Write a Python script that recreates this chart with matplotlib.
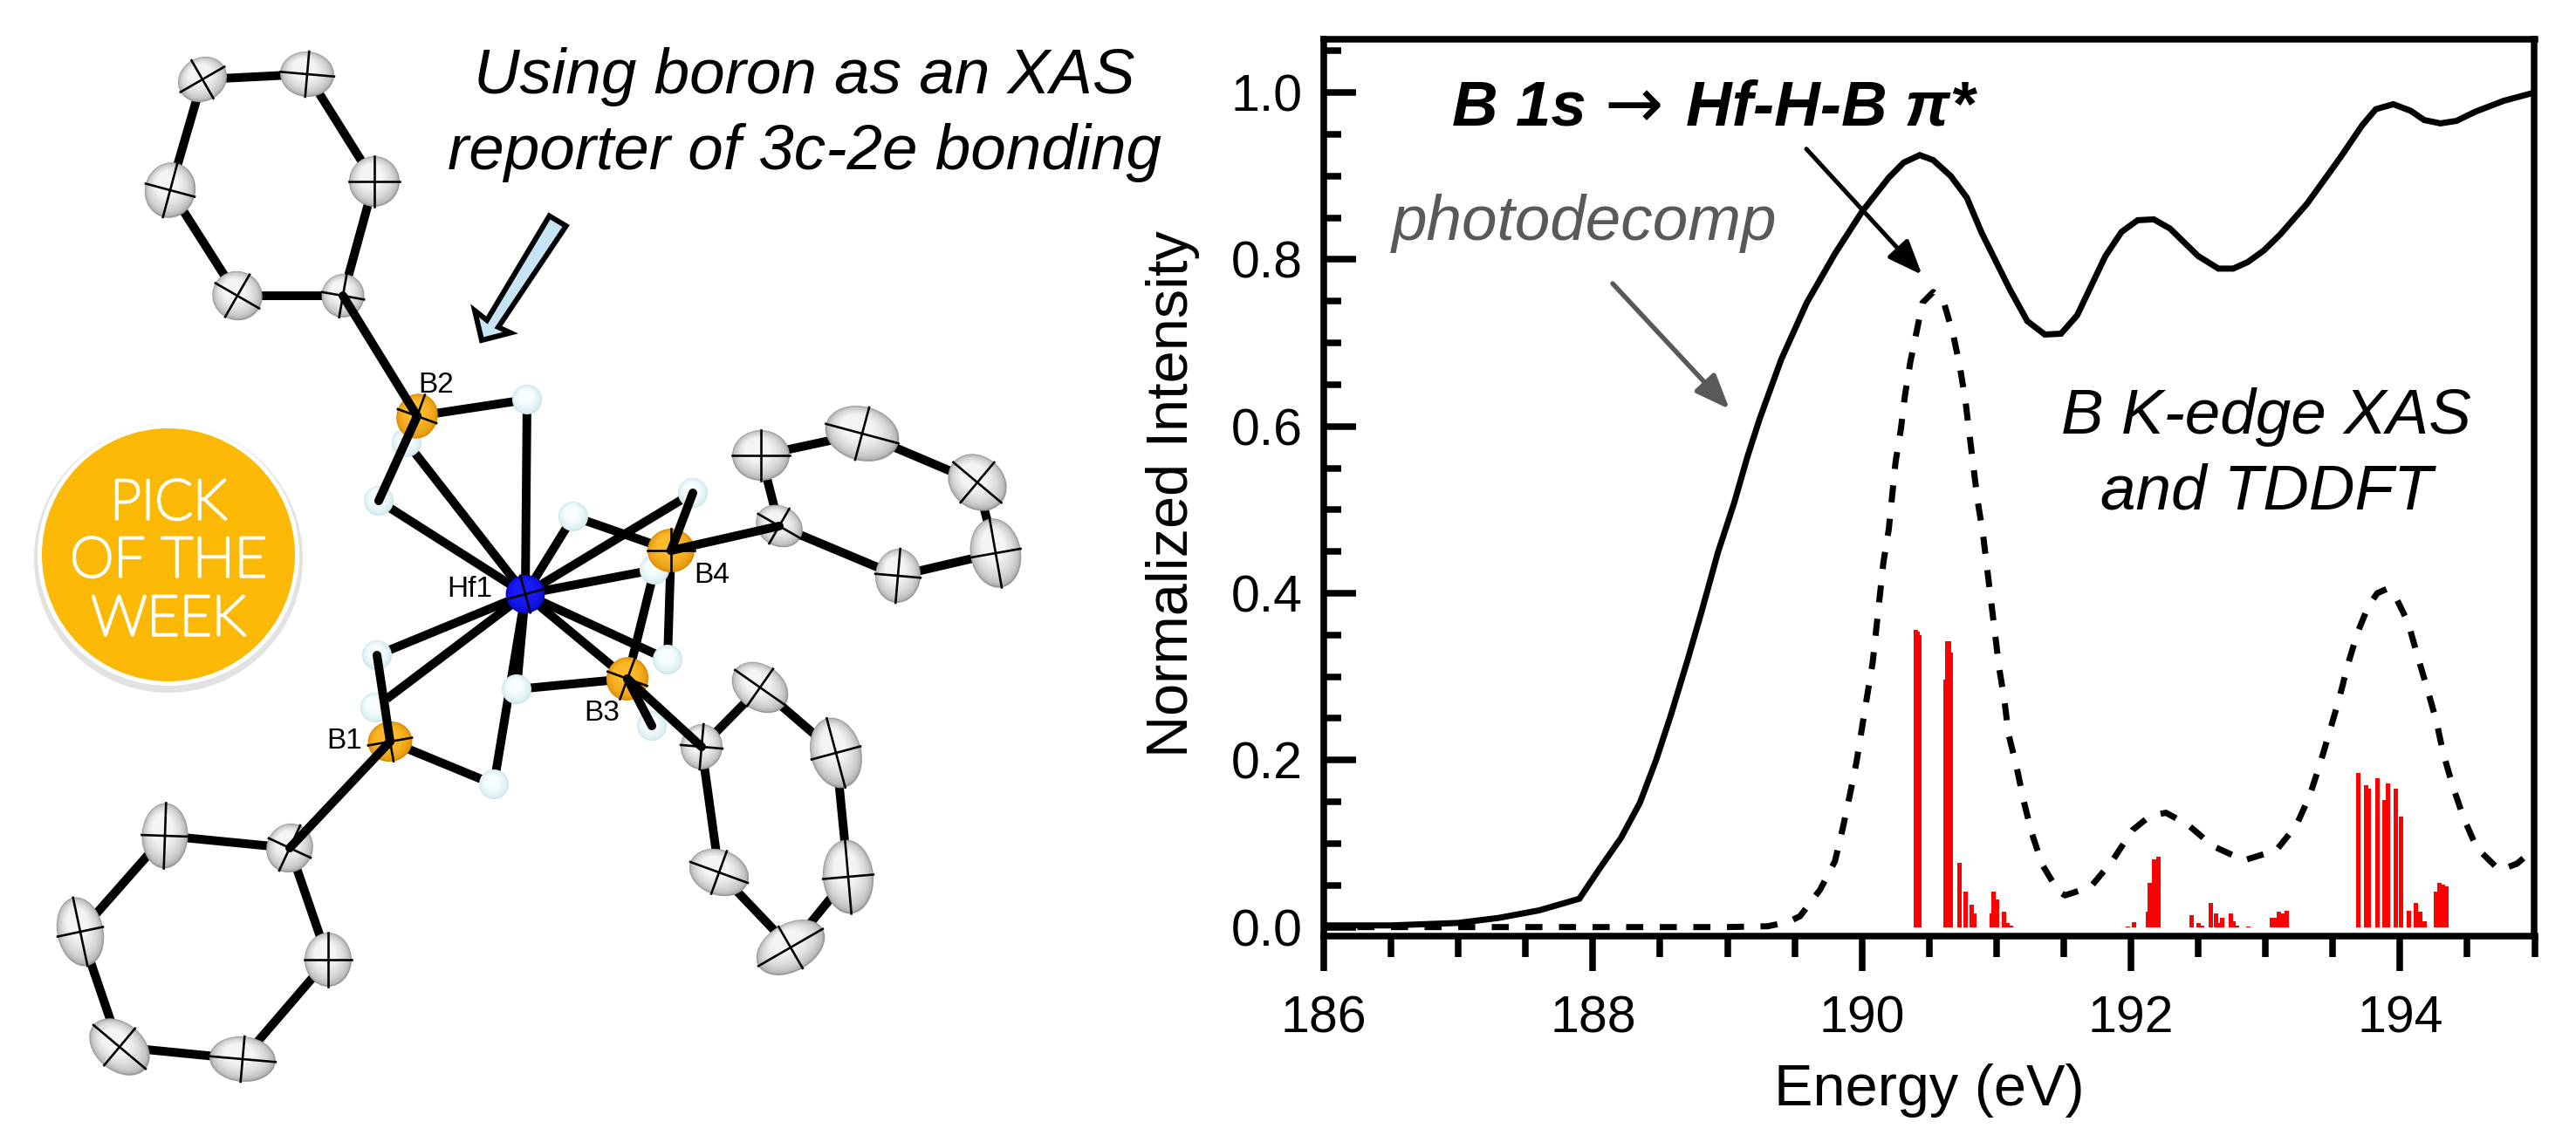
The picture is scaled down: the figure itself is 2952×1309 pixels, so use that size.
import matplotlib
matplotlib.use('Agg')
import numpy as np
import matplotlib.pyplot as plt
import matplotlib.patheffects as pe
from matplotlib.colors import to_rgb
from matplotlib.patches import Circle, Ellipse, Polygon
from matplotlib.ticker import MultipleLocator

plt.rcParams['font.family'] = ['Liberation Sans', 'DejaVu Sans']

# measured spectrum
xas_energy = [186.0, 186.5, 187.0, 187.3, 187.6, 187.9, 188.05, 188.21, 188.35, 188.47, 188.58, 188.71,
              188.81, 188.93, 189.05, 189.15, 189.24, 189.4, 189.59, 189.8, 190.0, 190.2, 190.31, 190.43,
              190.53, 190.66, 190.78, 190.89, 191.1, 191.23, 191.36, 191.48, 191.6, 191.81, 191.93, 192.05,
              192.17, 192.29, 192.5, 192.65, 192.76, 192.87, 192.99, 193.11, 193.31, 193.48, 193.56, 193.72,
              193.82, 193.95, 194.08, 194.18, 194.3, 194.42, 194.56, 194.77, 195.0]
xas_intensity = [0.002, 0.002, 0.005, 0.011, 0.02, 0.034, 0.07, 0.107, 0.149, 0.2, 0.254, 0.323,
                 0.379, 0.449, 0.508, 0.564, 0.609, 0.68, 0.748, 0.807, 0.857, 0.898, 0.916, 0.925,
                 0.919, 0.9, 0.874, 0.832, 0.764, 0.726, 0.71, 0.711, 0.733, 0.804, 0.833, 0.847,
                 0.848, 0.837, 0.804, 0.789, 0.789, 0.797, 0.811, 0.83, 0.867, 0.905, 0.923, 0.961,
                 0.98, 0.986, 0.978, 0.967, 0.963, 0.966, 0.977, 0.99, 1.0]

# broadened TDDFT
tddft_energy = [186.0, 188.5, 189.0, 189.3, 189.45, 189.54, 189.69, 189.8, 189.86, 189.91, 189.96, 190.0,
                190.04, 190.08, 190.16, 190.2, 190.25, 190.29, 190.32, 190.36, 190.41, 190.45, 190.53,
                190.61, 190.68, 190.73, 190.77, 190.8, 190.83, 190.86, 190.9, 190.93, 190.96, 190.99,
                191.02, 191.06, 191.09, 191.15, 191.2, 191.26, 191.34, 191.46, 191.51, 191.7, 191.86,
                192.01, 192.14, 192.26, 192.42, 192.61, 192.84, 193.08, 193.23, 193.33, 193.41, 193.48,
                193.55, 193.61, 193.68, 193.76, 193.83, 193.9, 193.96, 194.06, 194.13, 194.2, 194.27,
                194.32, 194.39, 194.47, 194.57, 194.74, 194.87, 195.0]
tddft_intensity = [0.0, 0.0, 0.0, 0.001, 0.006, 0.013, 0.045, 0.079, 0.12, 0.158, 0.198, 0.238,
                   0.278, 0.317, 0.437, 0.477, 0.557, 0.597, 0.637, 0.677, 0.716, 0.748, 0.761,
                   0.748, 0.709, 0.67, 0.63, 0.59, 0.55, 0.511, 0.471, 0.431, 0.391, 0.351,
                   0.311, 0.271, 0.231, 0.192, 0.153, 0.114, 0.075, 0.043, 0.038, 0.048, 0.079,
                   0.116, 0.133, 0.137, 0.123, 0.097, 0.08, 0.092, 0.122, 0.158, 0.198, 0.236,
                   0.275, 0.313, 0.351, 0.383, 0.4, 0.405, 0.398, 0.365, 0.325, 0.287, 0.247,
                   0.209, 0.17, 0.132, 0.095, 0.068, 0.076, 0.094]

# TDDFT sticks
stick_energy = [190.402, 190.413, 190.425, 190.624, 190.637, 190.65, 190.663, 190.728, 190.771, 190.816, 190.835,
                190.965, 190.98, 191.005, 191.058, 191.084, 191.11, 191.98, 192.02, 192.124, 192.142, 192.175,
                192.207, 192.45, 192.5, 192.53, 192.595, 192.63, 192.66, 192.68, 192.74, 192.765, 192.79, 192.87,
                193.05, 193.08, 193.1, 193.125, 193.155, 193.69, 193.75, 193.77, 193.83, 193.885, 193.91, 193.97,
                194.006, 194.065, 194.12, 194.15, 194.18, 194.27, 194.29, 194.32, 194.345]
stick_height = [0.356, 0.354, 0.35, 0.296, 0.342, 0.342, 0.329, 0.077, 0.042, 0.027, 0.016,
                0.016, 0.042, 0.033, 0.018, 0.005, 0.002, 0.001, 0.006, 0.018, 0.053, 0.081,
                0.084, 0.014, 0.005, 0.002, 0.029, 0.016, 0.005, 0.011, 0.016, 0.007, 0.002, 0.001,
                0.011, 0.011, 0.018, 0.016, 0.02, 0.185, 0.17, 0.166, 0.178, 0.152, 0.172, 0.166,
                0.132, 0.02, 0.029, 0.018, 0.007, 0.042, 0.053, 0.051, 0.049]

x_major_ticks = [186, 188, 190, 192, 194]
y_major_ticks = [0.0, 0.2, 0.4, 0.6, 0.8, 1.0]

# molecule drawing, everything in picture pixels (x, y, width, height, tilt)
ring_b2 = [(393, 339, 49, 50, 10), (272, 339, 58, 56, 30), (195, 218, 58, 64, 15),
           (232, 91, 58, 50, -30), (352, 85, 62, 52, 5), (429, 208, 58, 58, 0)]
ring_b1 = [(332, 972, 53, 57, 25), (189, 958, 53, 75, 2), (92, 1068, 53, 80, -12),
           (137, 1200, 78, 55, 40), (278, 1214, 76, 52, 5), (376, 1100, 54, 62, 0)]
ring_b4 = [(893, 603, 56, 46, 30), (872, 522, 66, 58, 0), (988, 497, 86, 62, 15),
           (1120, 553, 72, 60, 40), (1141, 634, 58, 80, -10), (1029, 660, 52, 62, 5)]
ring_b3 = [(804, 856, 48, 52, 5), (871, 788, 70, 52, 35), (958, 863, 58, 82, -15),
           (972, 1005, 58, 85, -5), (906, 1086, 85, 55, -30), (824, 1000, 70, 52, 20)]
boron = {'B1': (447, 850, 51, 46, -10), 'B2': (478, 477, 47, 52, 20),
         'B3': (719, 778, 48, 50, 20), 'B4': (769, 631, 54, 50, 0)}
hf = (602, 681)
hyd = {'a': (604, 458), 'b': (466, 507), 'c': (434, 574), 'd': (657, 592), 'e': (794, 565),
       'f': (750, 653), 'g': (765, 756), 'h': (747, 832), 'i': (592, 790), 'j': (566, 899),
       'k': (432, 751), 'l': (430, 811)}
hf_bonded = ['a', 'b', 'c', 'd', 'e', 'f', 'g', 'i', 'j', 'k', 'l']
b_h_bonds = [('B2', 'a'), ('B4', 'd'), ('B4', 'g'), ('B3', 'f'), ('B3', 'i'), ('B1', 'j')]
front_b_h_bonds = [('B2', 'c'), ('B4', 'e'), ('B3', 'h'), ('B1', 'k')]
atom_labels = ['B2', 'Hf1', 'B1', 'B4', 'B3']
atom_label_x = [500, 538, 395, 816, 690]
atom_label_y = [441, 676, 849, 659, 817]
blue_arrow_x = [629.5, 648.7, 571, 585, 552, 544, 558]
blue_arrow_y = [247.5, 259, 375, 381.5, 390, 356, 367]
badge_lines = ['PICK', 'OF THE', 'WEEK']
badge_baselines = [595, 661, 728]

PX = 0.72  # points per pixel at dpi 100

fig = plt.figure(figsize=(29.52, 13.09), dpi=100)
ax = fig.add_axes([1517 / 2952, 1 - 1072.7 / 1309, 1387.5 / 2952, 1027.7 / 1309])
ax.plot(xas_energy, xas_intensity, color='black', lw=7 * PX, solid_joinstyle='miter', zorder=3)
ax.plot(tddft_energy, tddft_intensity, color='black', lw=7 * PX, linestyle=(0, (2.8, 2.7)),
        dash_capstyle='butt', zorder=3)
ax.bar(stick_energy, stick_height, width=0.0324, color='#ff0000', linewidth=0, zorder=2)

ax.set_xlim(186, 195)
ax.set_ylim(-0.0105, 1.0638)
ax.set_xticks(x_major_ticks)
ax.set_yticks(y_major_ticks)
ax.xaxis.set_minor_locator(MultipleLocator(0.5))
ax.yaxis.set_minor_locator(MultipleLocator(0.05))
ax.tick_params(axis='x', which='major', direction='out', length=40 * PX, width=7.5 * PX, pad=28 * PX, labelsize=42.5)
ax.tick_params(axis='x', which='minor', direction='out', length=24 * PX, width=7.5 * PX)
ax.tick_params(axis='y', which='major', direction='in', length=37 * PX, width=7.5 * PX, pad=24 * PX, labelsize=42.5)
ax.tick_params(axis='y', which='minor', direction='in', length=20 * PX, width=7.5 * PX)
ax.set_yticklabels([f'{v:.1f}' for v in y_major_ticks])
for sp in ax.spines.values():
    sp.set_linewidth(7.5 * PX)
ax.set_xlabel('Energy (eV)', fontsize=48, va='baseline')
ax.xaxis.set_label_coords(0.4997, -0.189)
ax.set_ylabel('Normalized Intensity', fontsize=48, va='baseline')
ax.yaxis.set_label_coords((1361 - 1517) / 1387.5, 0.493)

# overlay in picture pixels for the molecule and the annotations
ov = fig.add_axes([0, 0, 1, 1], zorder=5)
ov.set_xlim(0, 2952)
ov.set_ylim(1309, 0)
ov.axis('off')


def bond(p, q, z=1, lw=10):
    ov.plot([p[0], q[0]], [p[1], q[1]], color='black', lw=lw * PX, solid_capstyle='round', zorder=z)


def shaded(x, y, w, h, tilt, dark, light, z):
    # stacked ellipses, lit from the upper left
    dark, light = np.array(to_rgb(dark)), np.array(to_rgb(light))
    for i in range(14):
        f = i / 13
        ov.add_patch(Ellipse((x - 0.06 * w * f, y - 0.12 * h * f), w * (1 - 0.55 * f), h * (1 - 0.55 * f), angle=tilt,
                             facecolor=dark + (light - dark) * f ** 0.45, edgecolor='none', zorder=z))


def atom(x, y, w, h, tilt, dark, light, z=4):
    shaded(x, y, w, h, tilt, dark, light, z)
    t = np.radians(tilt)
    ux, uy = np.cos(t), np.sin(t)
    ov.plot([x - ux * w / 2, x + ux * w / 2], [y - uy * w / 2, y + uy * w / 2], color='black', lw=2.6 * PX, zorder=z + 0.1)
    ov.plot([x + uy * h / 2, x - uy * h / 2], [y - ux * h / 2, y + ux * h / 2], color='black', lw=2.6 * PX, zorder=z + 0.1)


for ring, bname in zip([ring_b2, ring_b1, ring_b4, ring_b3], ['B2', 'B1', 'B4', 'B3']):
    for i in range(6):
        bond(ring[i][:2], ring[(i + 1) % 6][:2])
    bond(ring[0][:2], boron[bname][:2], z=5)
    for a in ring:
        atom(*a, '#9a9a9a', '#f4f4f4')

for name in hf_bonded:
    bond(hf, hyd[name])
bond(hf, boron['B3'][:2])
for b, h in b_h_bonds:
    bond(boron[b][:2], hyd[h])
for name, p in hyd.items():
    shaded(p[0], p[1], 34, 34, 0, '#c6e4e8', '#f6fdfe', 3)
for b in boron.values():
    atom(*b, '#d98a00', '#fdb92a')
atom(hf[0], hf[1], 45, 44, -15, '#0808b0', '#1a1aff', z=6)
for b, h in front_b_h_bonds:
    bond(boron[b][:2], hyd[h], z=5)

for lab, lx, ly in zip(atom_labels, atom_label_x, atom_label_y):
    ov.text(lx, ly, lab, fontsize=24, ha='center', va='center', zorder=7)

# badge
ov.add_patch(Circle((193, 640), 154, facecolor='#e2e2e2', edgecolor='none', zorder=1))
ov.add_patch(Circle((193, 636), 150, facecolor='white', edgecolor='none', zorder=1))
ov.add_patch(Circle((193, 636), 145, facecolor='#fbb906', edgecolor='none', zorder=1))
for line, base in zip(badge_lines, badge_baselines):
    ov.text(193, base, line, color='white', family='Lato', weight='light', fontsize=46, ha='center', va='baseline',
            zorder=2, path_effects=[pe.withStroke(linewidth=2.4, foreground='white')])

ov.add_patch(Polygon(np.column_stack([blue_arrow_x, blue_arrow_y]), closed=True, facecolor='#c6e4f5',
                     edgecolor='black', lw=6 * PX, joinstyle='miter', zorder=2))

italic = dict(style='italic', fontsize=52.5, va='baseline')
ov.text(922, 107, 'Using boron as an XAS', ha='center', **italic)
ov.text(922, 194, 'reporter of 3c-2e bonding', ha='center', **italic)
ov.text(1595, 275, 'photodecomp', color='#595959', ha='left', **italic)
ov.text(2597, 497, 'B K-edge XAS', ha='center', **italic)
ov.text(2597, 584, 'and TDDFT', ha='center', **italic)
ov.text(1664, 144, 'B 1s', weight='bold', ha='left', **italic)
ov.text(1872, 146, '\u2192', family='DejaVu Sans', fontsize=58, ha='center', va='baseline')
ov.text(1932, 144, 'Hf-H-B \u03c0*', weight='bold', ha='left', **italic)

ov.annotate('', xy=(2202.6, 315), xytext=(2070, 170.7),
            arrowprops=dict(arrowstyle='-|>,head_length=0.8,head_width=0.32', color='black', lw=5 * PX,
                            shrinkA=0, shrinkB=0, mutation_scale=30))
ov.annotate('', xy=(1982, 469), xytext=(1848, 325),
            arrowprops=dict(arrowstyle='-|>,head_length=0.8,head_width=0.32', color='#595959', lw=5.5 * PX,
                            shrinkA=0, shrinkB=0, mutation_scale=30))

fig.savefig('out.png', dpi=100)
